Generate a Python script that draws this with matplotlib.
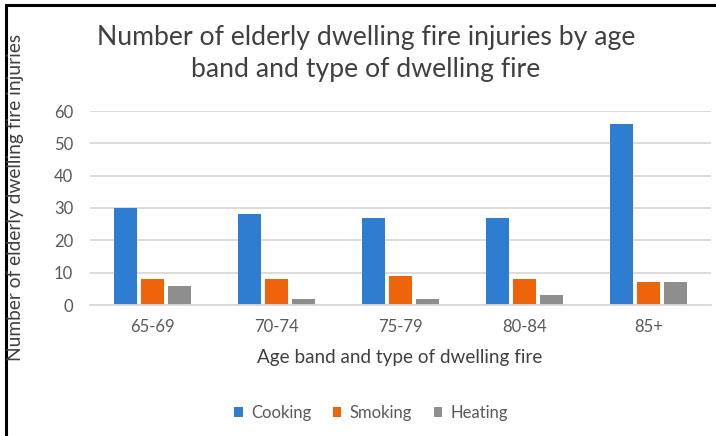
import matplotlib.pyplot as plt
import numpy as np
from matplotlib.patches import Rectangle

age_bands = ["65-69", "70-74", "75-79", "80-84", "85+"]
cooking = [30, 28, 27, 27, 56]
smoking = [8, 8, 9, 8, 7]
heating = [6, 2, 2, 3, 7]

plt.rcParams["font.family"] = ["Lato", "DejaVu Sans"]

W, H = 716, 436
fig = plt.figure(figsize=(W / 100, H / 100), dpi=100)

# axes box in pixel coords
left, right, top, bottom = 90, 711, 111, 305
ax = fig.add_axes([left / W, 1 - bottom / H, (right - left) / W, (bottom - top) / H])

x = np.arange(len(age_bands))
bw = 0.185
step = 0.217
ax.bar(x - step, cooking, bw, color="#2E7DD0", label="Cooking")
ax.bar(x, smoking, bw, color="#EE640A", label="Smoking")
ax.bar(x + step, heating, bw, color="#8E8E8E", label="Heating")

ax.set_xlim(-0.5, len(age_bands) - 0.5)
ax.set_ylim(0, 60)
ax.set_yticks(range(0, 61, 10))
ax.set_xticks(x)
ax.set_xticklabels(age_bands)
ax.grid(axis="y", color="#D9D9D9", linewidth=1.3)
ax.set_axisbelow(True)
for s in ["top", "right", "left"]:
    ax.spines[s].set_visible(False)
ax.spines["bottom"].set_color("#D9D9D9")
ax.spines["bottom"].set_linewidth(1.3)
ax.tick_params(length=0, labelsize=12, colors="#595959", pad=10)
ax.tick_params(axis="y", pad=12)

fig.text(366 / W, 1 - 37 / H, "Number of elderly dwelling fire injuries by age",
         ha="center", va="center", fontsize=19.2, color="#404040")
fig.text(366 / W, 1 - 70 / H, "band and type of dwelling fire",
         ha="center", va="center", fontsize=19.2, color="#404040")
fig.text(16 / W, 1 - 197 / H, "Number of elderly dwelling fire injuries",
         ha="center", va="center", rotation=90, fontsize=13.8, color="#404040")
fig.text(400 / W, 1 - 357 / H, "Age band and type of dwelling fire",
         ha="center", va="center", fontsize=13.6, color="#404040")

fig.legend(loc="center", bbox_to_anchor=(371 / W, 1 - 413 / H), ncol=3,
           frameon=False, fontsize=12, labelcolor="#595959",
           handlelength=0.5, handleheight=0.5, handletextpad=0.5, columnspacing=1.3)

# outer black frame (cut at right/bottom in the original)
fig.patches.append(Rectangle((6 / W, -0.1), 1.2, 1 - 5 / H + 0.1, transform=fig.transFigure,
                             fill=False, edgecolor="black", linewidth=2.2))

fig.savefig("out.png", dpi=100)
